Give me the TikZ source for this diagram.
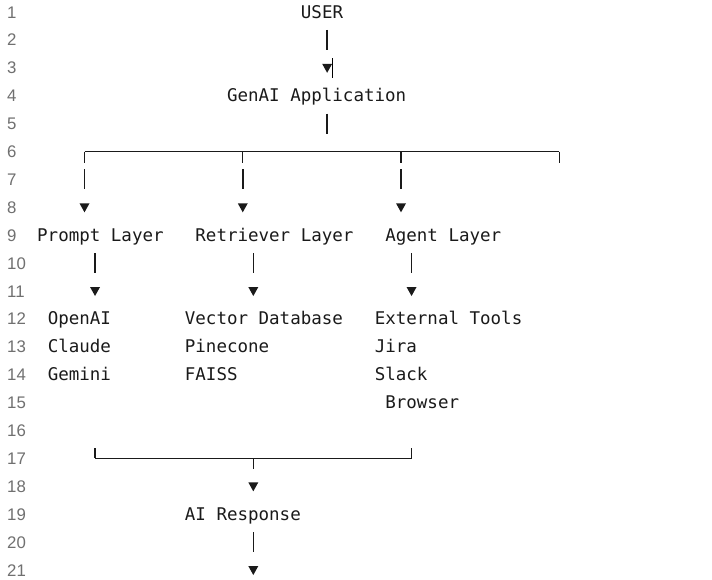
\documentclass[tikz,border=0pt]{standalone}
\usepackage{fontspec}
\newfontfamily\codefont{DejaVu Sans Mono}
\newfontfamily\gutterfont{Liberation Sans}
\definecolor{ink}{HTML}{1A1A1A}
\definecolor{gutter}{HTML}{707070}
\begin{document}
\begin{tikzpicture}[x=1pt,y=-1pt,
  code/.style={anchor=base west,inner sep=0pt,text=ink,
    font=\codefont\fontsize{17.5pt}{20pt}\selectfont},
  lineno/.style={anchor=base west,inner sep=0pt,text=gutter,
    font=\gutterfont\fontsize{16.8pt}{19pt}\selectfont},
  bar/.style={draw=ink,line width=1.6pt},
  rule/.style={draw=ink,line width=1.4pt},
  tip/.style={fill=ink},
]
% canvas
\useasboundingbox (0,0) rectangle (712,579);
\fill[white] (0,0) rectangle (712,579);

% grid: column c -> x = 37 + 10.55c, line n -> centre y = 12 + 27.9(n-1)
\def\cw{10.55}
\def\lh{27.9}

% gutter line numbers
\foreach \n in {1,...,21}
  \node[lineno] (ln\n) at (7,{18+\lh*(\n-1)}) {\n};

% text nodes (column, line)
\node[code] (user)   at ({37+\cw*25},{18+\lh*0})  {USER};
\node[code] (genai)  at ({37+\cw*18},{18+\lh*3})  {GenAI Application};
\node[code] (prompt) at ({37+\cw*0},{18+\lh*8})   {Prompt Layer};
\node[code] (retr)   at ({37+\cw*15},{18+\lh*8})  {Retriever Layer};
\node[code] (agent)  at ({37+\cw*33},{18+\lh*8})  {Agent Layer};
\node[code] (openai) at ({37+\cw*1},{18+\lh*11})  {OpenAI};
\node[code] (claude) at ({37+\cw*1},{18+\lh*12})  {Claude};
\node[code] (gemini) at ({37+\cw*1},{18+\lh*13})  {Gemini};
\node[code] (vdb)    at ({37+\cw*14},{18+\lh*11}) {Vector Database};
\node[code] (pine)   at ({37+\cw*14},{18+\lh*12}) {Pinecone};
\node[code] (faiss)  at ({37+\cw*14},{18+\lh*13}) {FAISS};
\node[code] (ext)    at ({37+\cw*32},{18+\lh*11}) {External Tools};
\node[code] (jira)   at ({37+\cw*32},{18+\lh*12}) {Jira};
\node[code] (slack)  at ({37+\cw*32},{18+\lh*13}) {Slack};
\node[code] (brow)   at ({37+\cw*33},{18+\lh*14}) {Browser};
\node[code] (resp)   at ({37+\cw*14},{18+\lh*18}) {AI Response};

% vertical bar in column c on line n
\newcommand\vbar[2]{%
  \draw[bar] ({42.3+\cw*#1},{12+\lh*(#2-1)-10}) -- ({42.3+\cw*#1},{12+\lh*(#2-1)+10});}
% down-pointing arrow head in column c on line n
\newcommand\downtip[2]{%
  \fill[tip] ({42.3+\cw*#1-5},{12.5+\lh*(#2-1)-4.5}) -- ({42.3+\cw*#1+5},{12.5+\lh*(#2-1)-4.5})
    -- ({42.3+\cw*#1},{12.5+\lh*(#2-1)+4.5}) -- cycle;}

% USER -> GenAI Application
\vbar{27}{2}
\downtip{27}{3}
% editor caret
\draw[black,line width=0.8pt] (332.5,58) -- (332.5,78);

% GenAI Application -> fan-out rule
\vbar{27}{5}
\draw[rule] ({42.3+\cw*4},{12+\lh*5}) -- ({42.3+\cw*49},{12+\lh*5});
\foreach \c in {4,19,34,49}
  \draw[rule] ({42.3+\cw*\c},{12+\lh*5}) -- ({42.3+\cw*\c},{12+\lh*5+11});

% branches down to the three layers
\foreach \c in {4,19,34} {
  \vbar{\c}{7}
  \downtip{\c}{8}
}

% layers -> their providers
\foreach \c in {5,20,35} {
  \vbar{\c}{10}
  \downtip{\c}{11}
}

% fan-in rule to AI Response
\draw[rule] ({42.3+\cw*5},{12+\lh*16}) -- ({42.3+\cw*35},{12+\lh*16});
\foreach \c in {5,35}
  \draw[rule] ({42.3+\cw*\c},{12+\lh*16-10}) -- ({42.3+\cw*\c},{12+\lh*16});
\draw[rule] ({42.3+\cw*20},{12+\lh*16}) -- ({42.3+\cw*20},{12+\lh*16+11});
\downtip{20}{18}

% AI Response -> output
\vbar{20}{20}
\downtip{20}{21}
\end{tikzpicture}
\end{document}
